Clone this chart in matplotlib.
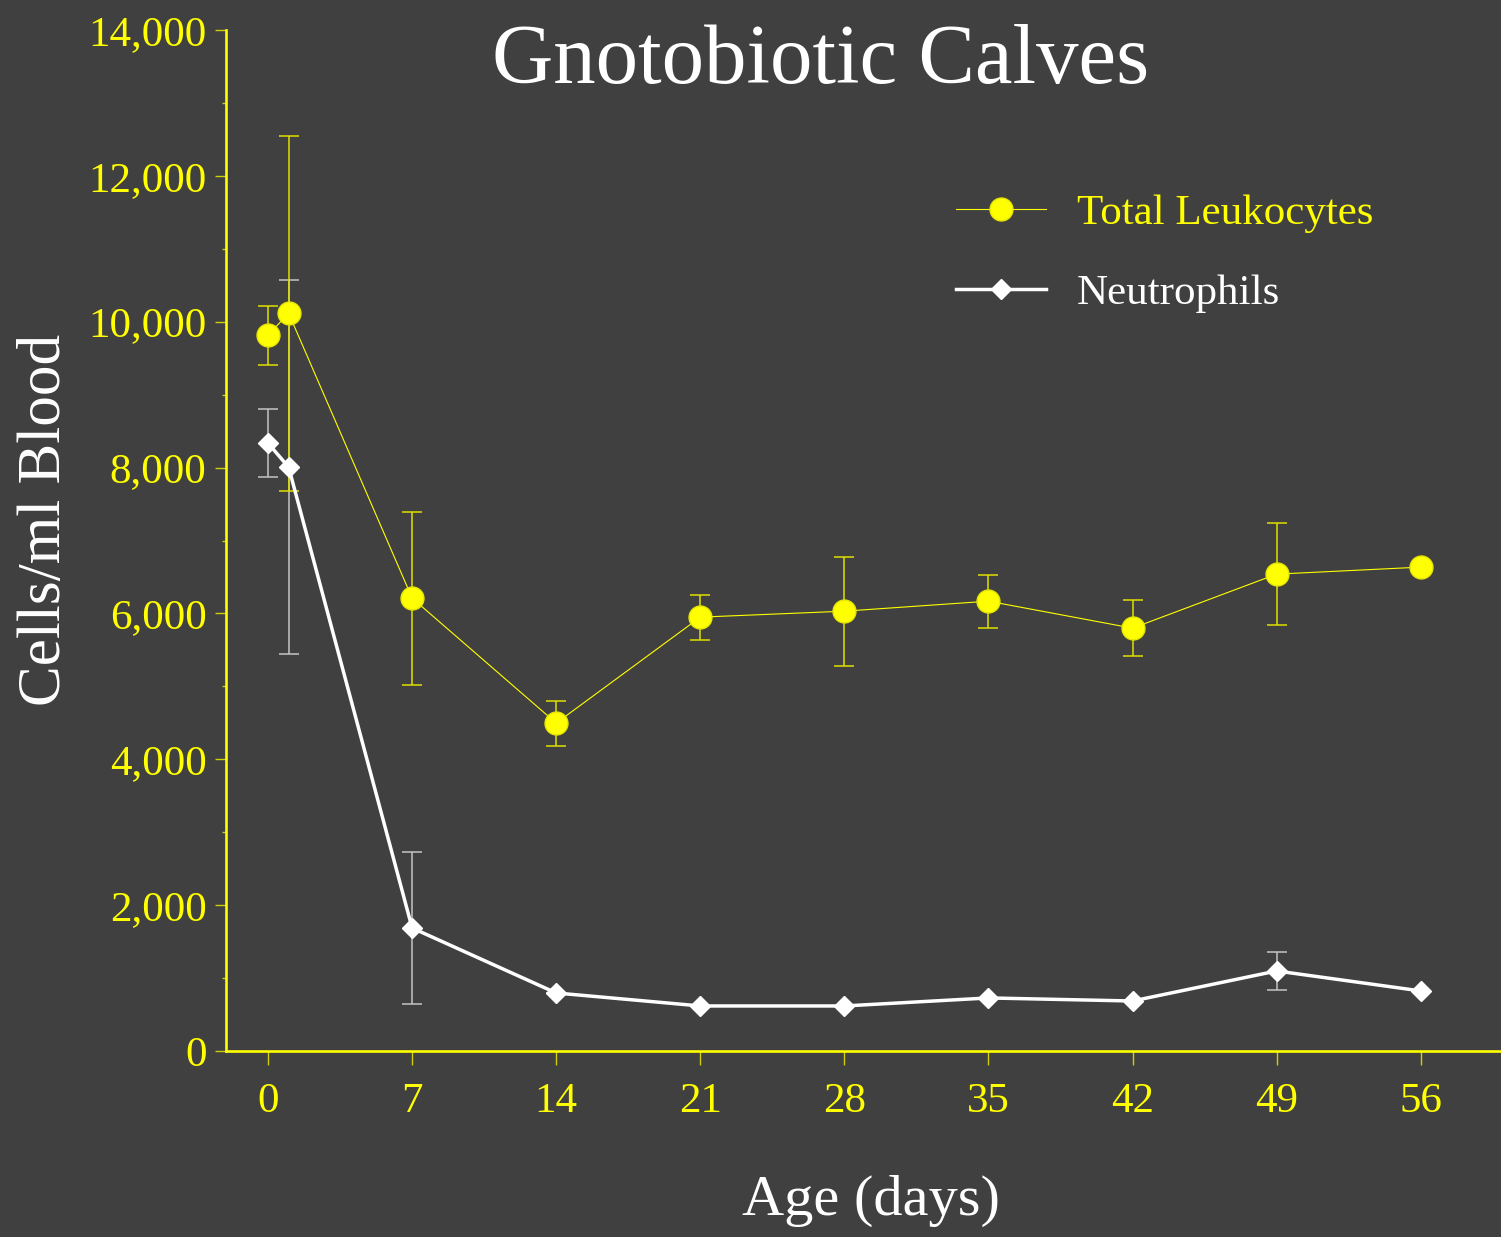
import matplotlib
matplotlib.use('Agg')
import matplotlib.pyplot as plt
from matplotlib.ticker import MultipleLocator, FuncFormatter

days = [0, 1, 7, 14, 21, 28, 35, 42, 49, 56]
day_ticks = [0, 7, 14, 21, 28, 35, 42, 49, 56]

leukocytes = [9815, 10117, 6210, 4496, 5949, 6031, 6168, 5798, 6539, 6635]
leukocytes_err = [405, 2433, 1186, 308, 308, 747, 363, 383, 700, 0]

neutrophils = [8335, 8006, 1686, 795, 617, 617, 727, 685, 1097, 823]
neutrophils_err = [466, 2563, 1041, 0, 0, 0, 0, 0, 260, 0]

BG = '#404040'
YEL = '#ffff00'
SERIF = ['Liberation Serif', 'DejaVu Serif']

plt.rcParams['font.family'] = SERIF

fig = plt.figure(figsize=(15.01, 12.37), dpi=100, facecolor=BG)
ax = fig.add_axes([0.1506, 0.1504, 0.8494, 0.8253], facecolor=BG)

# error bars first, then the lines and markers on top
ax.errorbar(days, neutrophils, yerr=neutrophils_err, fmt='none',
            ecolor='#c4c4c4', elinewidth=1.1, capsize=7, capthick=1.1, zorder=2)
ax.errorbar(days, leukocytes, yerr=leukocytes_err, fmt='none',
            ecolor='#e0e000', elinewidth=1.1, capsize=7, capthick=1.1, zorder=2)

ax.plot(days, leukocytes, color=YEL, lw=0.8, marker='o', ms=16.5,
        mfc=YEL, mec='#e6e600', mew=1, label='Total Leukocytes', zorder=4)
ax.plot(days, neutrophils, color='white', lw=2.5, marker='D', ms=10,
        mfc='white', mec='white', label='Neutrophils', zorder=3)

ax.set_xlim(-2.04, 59.9)
ax.set_ylim(0, 14000)
ax.set_xticks(day_ticks)
ax.yaxis.set_major_locator(MultipleLocator(2000))
ax.yaxis.set_minor_locator(MultipleLocator(1000))
ax.yaxis.set_major_formatter(FuncFormatter(lambda v, p: f'{int(v):,}'))

for s in ['top', 'right']:
    ax.spines[s].set_visible(False)
for s in ['left', 'bottom']:
    ax.spines[s].set_color(YEL)
    ax.spines[s].set_linewidth(1.9)

ax.tick_params(axis='y', which='major', direction='out', length=8, width=1,
               color='#d0d000', labelcolor=YEL, labelsize=31, pad=6)
ax.tick_params(axis='y', which='minor', direction='out', length=3, width=1,
               color='#d0d000')
ax.tick_params(axis='x', which='major', direction='out', length=10, width=1,
               color='#d0d000', labelcolor=YEL, labelsize=31, pad=13)

ax.set_ylabel('Cells/ml Blood', color='white', fontsize=44)
ax.yaxis.set_label_coords(-0.12, 0.52)
ax.set_xlabel('Age (days)', color='white', fontsize=42, va='top')
ax.xaxis.set_label_coords(0.506, -0.121)

fig.text(0.547, 0.933, 'Gnotobiotic Calves', color='white', fontsize=61,
         ha='center', va='baseline')

leg = ax.legend(loc='upper left', bbox_to_anchor=(0.559, 0.856), frameon=False,
                fontsize=31, handlelength=2.1, handletextpad=0.7,
                labelspacing=0.95, borderaxespad=0)
leg.get_texts()[0].set_color(YEL)
leg.get_texts()[1].set_color('white')

fig.savefig('out.png', dpi=100, facecolor=BG)
